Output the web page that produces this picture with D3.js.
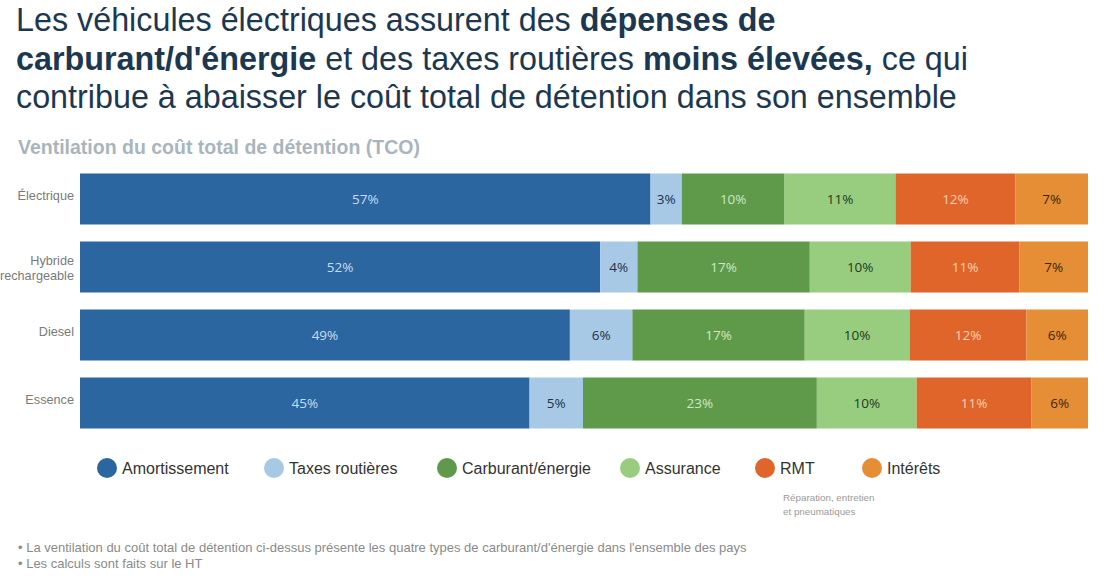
<!DOCTYPE html>
<html>
<head>
<meta charset="utf-8">
<script src="https://cdn.jsdelivr.net/npm/d3@7"></script>
<style>
  html { font-family: "Liberation Sans", Arial, sans-serif; }
  body { margin: 0; background: #fff; }
</style>
</head>
<body>
<div id="graph"></div>
<script>
// data (label = rounded share)
var vehicles = ["Électrique", "Hybride rechargeable", "Diesel", "Essence"];
var costTypes = ["Amortissement", "Taxes routières", "Carburant/énergie", "Assurance", "RMT", "Intérêts"];
var amortissement = [56.6, 51.6, 48.6, 44.6];
var taxes = [3.1, 3.7, 6.2, 5.3];
var carburant = [10.2, 17.1, 17.1, 23.2];
var assurance = [11.0, 10.0, 10.4, 9.9];
var rmt = [11.9, 10.8, 11.6, 11.4];
var interets = [7.2, 6.8, 6.1, 5.6];

var colors = ["#2b66a0", "#a8c9e6", "#5e9a4a", "#98cd80", "#e0652a", "#e68e35"];
var labelColors = ["#c8ddf0", "#1d3346", "#cfe8c0", "#1f3a1c", "#fbd0b0", "#3e2510"];

var width = 1110, height = 584;
var svg = d3.select("#graph").append("svg")
    .attr("width", width)
    .attr("height", height);

// title
var titleLines = [
  [["Les véhicules électriques assurent des ", false], ["dépenses de", true]],
  [["carburant/d'énergie", true], [" et des taxes routières ", false], ["moins élevées,", true], [" ce qui", false]],
  [["contribue à abaisser le coût total de détention dans son ensemble", false]]
];
titleLines.forEach(function(line, i) {
  var t = svg.append("text")
      .attr("x", 16)
      .attr("y", 31 + i * 38.5)
      .attr("fill", "#1c3850")
      .style("font-size", "32.3px");
  line.forEach(function(p) {
    t.append("tspan").text(p[0]).style("font-weight", p[1] ? "bold" : "normal");
  });
});

svg.append("text")
    .attr("x", 18)
    .attr("y", 154)
    .attr("fill", "#a9b5be")
    .style("font-size", "19.5px")
    .style("font-weight", "bold")
    .text("Ventilation du coût total de détention (TCO)");

// stacked data
var series = [amortissement, taxes, carburant, assurance, rmt, interets];
var rows = vehicles.map(function(v, i) {
  var r = {vehicle: v};
  costTypes.forEach(function(c, j) { r[c] = series[j][i]; });
  return r;
});
var stacked = d3.stack().keys(costTypes)(rows);

var x = d3.scaleLinear().domain([0, 100]).range([80, 1088]);
var y = d3.scaleBand()
    .domain(vehicles)
    .range([165, 437])
    .paddingInner(0.25)
    .paddingOuter(0.125);

var layer = svg.selectAll("g.layer")
    .data(stacked)
    .enter().append("g")
    .attr("class", "layer");

layer.selectAll("rect")
    .data(function(d) { return d; })
    .enter().append("rect")
    .attr("x", function(d) { return x(d[0]); })
    .attr("y", function(d) { return y(d.data.vehicle); })
    .attr("width", function(d) { return x(d[1]) - x(d[0]); })
    .attr("height", y.bandwidth())
    .attr("fill", function(d, i, n) { return colors[costTypes.indexOf(d3.select(n[i].parentNode).datum().key)]; });

layer.each(function(s, k) {
  d3.select(this).selectAll("text.val")
    .data(s)
    .enter().append("text")
    .attr("class", "val")
    .attr("x", function(d) { return (x(d[0]) + x(d[1])) / 2; })
    .attr("y", function(d) { return y(d.data.vehicle) + y.bandwidth() / 2; })
    .attr("dy", "0.35em")
    .attr("text-anchor", "middle")
    .attr("fill", labelColors[k])
    .style("font-family", "'Open Sans', sans-serif")
    .style("font-size", "13.5px")
    .text(function(d) { return Math.round(d[1] - d[0]) + "%"; });
});

// row labels
var yAxis = svg.append("g")
    .attr("transform", "translate(74,0)")
    .call(d3.axisLeft(y).tickSize(0).tickPadding(0));
yAxis.select(".domain").remove();
yAxis.selectAll(".tick text").remove();
yAxis.selectAll(".tick").each(function(d) {
  var words = d === "Hybride rechargeable" ? ["Hybride", "rechargeable"] : [d];
  var t = d3.select(this).append("text")
      .attr("text-anchor", "end")
      .attr("fill", "#7a7a7a")
      .style("font-size", "12.7px")
      .style("font-family", "'Liberation Sans', Arial, sans-serif");
  words.forEach(function(w, i) {
    t.append("tspan")
      .attr("x", 0)
      .attr("y", words.length === 1 ? -3 : -6 + i * 15)
      .attr("dy", "0.35em")
      .text(w);
  });
});

// legend
var legendX = [107, 274, 447, 630, 765, 872];
var legend = svg.selectAll("g.legend")
    .data(costTypes)
    .enter().append("g")
    .attr("class", "legend")
    .attr("transform", function(d, i) { return "translate(" + legendX[i] + ",468)"; });
legend.append("circle")
    .attr("r", 10)
    .attr("fill", function(d, i) { return colors[i]; });
legend.append("text")
    .attr("x", 15)
    .attr("dy", "0.35em")
    .attr("fill", "#333")
    .style("font-size", "16px")
    .text(function(d) { return d; });

var note = svg.append("text")
    .attr("x", 783)
    .attr("fill", "#9a9a9a")
    .style("font-size", "9.8px");
note.append("tspan").attr("x", 783).attr("y", 501).text("Réparation, entretien");
note.append("tspan").attr("x", 783).attr("y", 515).text("et pneumatiques");

var foot = ["• La ventilation du coût total de détention ci-dessus présente les quatre types de carburant/d'énergie dans l'ensemble des pays",
            "• Les calculs sont faits sur le HT"];
svg.selectAll("text.foot")
    .data(foot)
    .enter().append("text")
    .attr("class", "foot")
    .attr("x", 18)
    .attr("y", function(d, i) { return 552 + i * 16; })
    .attr("fill", "#8a8a8a")
    .style("font-size", "13px")
    .text(function(d) { return d; });
</script>
</body>
</html>
